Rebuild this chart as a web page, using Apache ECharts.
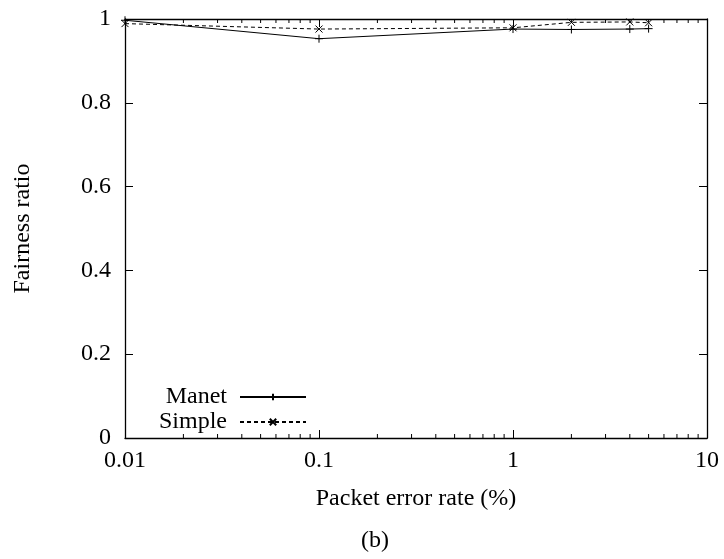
<!DOCTYPE html>
<html>
<head>
<meta charset="utf-8">
<script src="https://cdn.jsdelivr.net/npm/echarts@6/dist/echarts.min.js"></script>
<style>
  html, body { margin: 0; padding: 0; background: #fff; }
  #chart { width: 724px; height: 559px; }
</style>
</head>
<body>
<div id="chart"></div>
<script>
// Packet error rate (%) sample points
const errorRates = [0.01, 0.1, 1, 2, 4, 5];
// Fairness ratio per protocol
const manetValues = [0.997, 0.953, 0.976, 0.975, 0.976, 0.977];
const simpleValues = [0.989, 0.976, 0.979, 0.992, 0.993, 0.991];
// Axis tick labels
const xTickLabels = ['0.01', '0.1', '1', '10'];
const yTickLabels = ['0', '0.2', '0.4', '0.6', '0.8', '1'];
// Minor ticks of the logarithmic x axis
const minorTicks = [
  0.02, 0.03, 0.04, 0.05, 0.06, 0.07, 0.08, 0.09,
  0.2, 0.3, 0.4, 0.5, 0.6, 0.7, 0.8, 0.9,
  2, 3, 4, 5, 6, 7, 8, 9
];

const FONT = '"Liberation Serif", "Times New Roman", serif';
const FS = 24;
const plusSymbol = 'path://M0,5L10,5M5,0L5,10';
const crossSymbol = 'path://M0,0L10,10M0,10L10,0';

const chart = echarts.init(document.getElementById('chart'), null, { renderer: 'canvas' });

const axisLine = { show: true, onZero: false, lineStyle: { color: '#000', width: 1.3 } };
const majorTick = { show: true, inside: true, length: 8, lineStyle: { color: '#000' } };
const xLabelFmt = v => {
  const i = [0.01, 0.1, 1, 10].findIndex(t => Math.abs(Math.log10(t) - Math.log10(v)) < 1e-6);
  return i >= 0 ? xTickLabels[i] : '';
};
const yLabelFmt = v => yTickLabels[Math.round(v / 0.2)] || '';

const option = {
  animation: false,
  backgroundColor: '#fff',
  grid: { left: 125, right: 17, top: 19, bottom: 121, containLabel: false },
  xAxis: [
    {
      type: 'log', logBase: 10, min: 0.01, max: 10, position: 'bottom',
      name: 'Packet error rate (%)', nameLocation: 'middle', nameGap: 49,
      nameTextStyle: { fontFamily: FONT, fontSize: FS, color: '#000' },
      axisLine: axisLine,
      axisTick: majorTick,
      axisLabel: { formatter: xLabelFmt, fontFamily: FONT, fontSize: FS, color: '#000', margin: 11 },
      splitLine: { show: false }
    },
    {
      type: 'log', logBase: 10, min: 0.01, max: 10, position: 'top',
      axisLine: axisLine,
      axisTick: majorTick,
      axisLabel: { show: false },
      splitLine: { show: false }
    }
  ],
  yAxis: [
    {
      type: 'value', min: 0, max: 1, interval: 0.2, position: 'left',
      name: 'Fairness ratio', nameLocation: 'middle', nameGap: 90, nameRotate: 90,
      nameTextStyle: { fontFamily: FONT, fontSize: FS, color: '#000' },
      axisLine: axisLine,
      axisTick: majorTick,
      axisLabel: { formatter: yLabelFmt, fontFamily: FONT, fontSize: FS, color: '#000', margin: 14 },
      splitLine: { show: false }
    },
    {
      type: 'value', min: 0, max: 1, interval: 0.2, position: 'right',
      axisLine: axisLine,
      axisTick: majorTick,
      axisLabel: { show: false },
      splitLine: { show: false }
    }
  ],
  legend: [
    {
      data: ['Manet'], orient: 'vertical', align: 'right', right: 412, top: 380,
      itemWidth: 66, itemHeight: 8, itemGap: 4,
      textStyle: { fontFamily: FONT, fontSize: FS, color: '#000', padding: [0, 8, 0, 0] }
    },
    {
      data: ['Simple'], orient: 'vertical', align: 'right', right: 412, top: 405,
      itemWidth: 66, itemHeight: 8, itemGap: 4,
      textStyle: { fontFamily: FONT, fontSize: FS, color: '#000', padding: [0, 8, 0, 0] }
    }
  ],
  graphic: [
    {
      type: 'text', left: 361, top: 529,
      style: { text: '(b)', fontFamily: FONT, fontSize: FS, fill: '#000' }
    }
  ],
  series: [
    {
      name: 'Manet', type: 'line',
      data: errorRates.map((x, i) => [x, manetValues[i]]),
      symbol: plusSymbol, symbolSize: 8,
      lineStyle: { color: '#000', width: 1, type: 'solid' },
      itemStyle: { color: '#000', borderColor: '#000', borderWidth: 1 },
      clip: false, z: 3
    },
    {
      name: 'Simple', type: 'line',
      data: errorRates.map((x, i) => [x, simpleValues[i]]),
      symbol: crossSymbol, symbolSize: 7,
      lineStyle: { color: '#000', width: 1, type: [4, 3] },
      itemStyle: { color: '#000', borderColor: '#000', borderWidth: 1 },
      clip: false, z: 3
    },
    {
      // minor ticks on the bottom and top edges of the log axis
      name: 'minorTicks', type: 'custom',
      data: minorTicks.map(v => [v]),
      encode: { x: 0 },
      silent: true, clip: false, z: 2,
      renderItem: (params, api) => {
        const x = api.value(0);
        const b = api.coord([x, 0]);
        const t = api.coord([x, 1]);
        const style = { stroke: '#000', lineWidth: 1 };
        return {
          type: 'group',
          children: [
            { type: 'line', shape: { x1: b[0], y1: b[1], x2: b[0], y2: b[1] - 4 }, style: style },
            { type: 'line', shape: { x1: t[0], y1: t[1], x2: t[0], y2: t[1] + 4 }, style: style }
          ]
        };
      }
    }
  ]
};

chart.setOption(option);
</script>
</body>
</html>
